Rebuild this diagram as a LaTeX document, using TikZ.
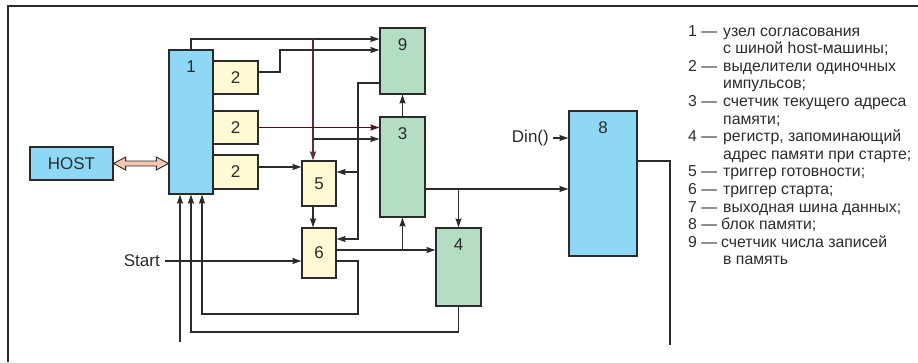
\documentclass[tikz,border=0pt]{standalone}
\usepackage{fontspec}
\setmainfont{Liberation Sans}
\usetikzlibrary{arrows.meta,calc}
\definecolor{lc}{HTML}{2B2B2B}
\definecolor{bblue}{HTML}{8ED8F6}
\definecolor{byel}{HTML}{FFFAD4}
\definecolor{bgrn}{HTML}{B4DEC3}
\definecolor{salm}{HTML}{F6C7B2}
\definecolor{dred}{HTML}{4E1018}
\definecolor{brn}{HTML}{5E2E38}
\begin{document}
\begin{tikzpicture}[x=1pt,y=-1pt,
  blk/.style={draw=lc, line width=1.2pt, inner sep=0pt, text=lc, font=\fontsize{17}{17}\selectfont},
  lab/.style={font=\fontsize{17}{17}\selectfont, text=lc},
  conn/.style={draw=lc, line width=1.1pt},
  arr/.style={conn, -{Stealth[length=9pt,width=6pt,inset=1pt]}},
  leg/.style={anchor=base west, inner sep=0pt, font=\fontsize{15.8}{15.8}\selectfont, text=lc},
  tall/.style={label={[lab,anchor=center,yshift=-17.5pt]north:#1}}]
\useasboundingbox (0,0) rectangle (918,362);
\draw[lc, line width=1.4pt] (8,362) -- (8,6) -- (918,6);

% blocks
\node[blk, fill=bblue, minimum width=83pt, minimum height=33pt] (host) at (71.5,163.5) {HOST};
\node[blk, fill=bblue, minimum width=44pt, minimum height=144pt, tall=1] (n1) at (191,122) {};
\node[blk, fill=byel, minimum width=45pt, minimum height=33pt] (n2a) at (235.5,77.5) {2};
\node[blk, fill=byel, minimum width=45pt, minimum height=33pt] (n2b) at (235.5,127.5) {2};
\node[blk, fill=byel, minimum width=45pt, minimum height=34pt] (n2c) at (235.5,172) {2};
\node[blk, fill=bgrn, minimum width=45pt, minimum height=66pt, tall=9] (n9) at (402.5,61) {};
\node[blk, fill=bgrn, minimum width=45pt, minimum height=100pt, tall=3] (n3) at (402.5,167) {};
\node[blk, fill=byel, minimum width=34pt, minimum height=45pt] (n5) at (319,183.5) {5};
\node[blk, fill=byel, minimum width=34pt, minimum height=50pt] (n6) at (319,253) {6};
\node[blk, fill=bgrn, minimum width=45pt, minimum height=78pt, tall=4] (n4) at (458.5,267) {};
\node[blk, fill=bblue, minimum width=68pt, minimum height=145pt, tall=8] (n8) at (603,183.5) {};

% text labels
\node[lab, anchor=east, inner xsep=5pt] (start) at (165,261) {Start};
\node[lab, anchor=east, inner xsep=4pt] (din) at (553,138) {Din()};

% junction coordinates
\coordinate (jA) at (191,39);
\coordinate (jB) at (313,39);
\coordinate (jC) at (313,139);
\coordinate (jD1) at (280,72);
\coordinate (jD2) at (280,50);
\coordinate (yF) at (0,167);
\coordinate (jG1) at (358,83);
\coordinate (jG2) at (358,172);
\coordinate (jG3) at (358,239);
\coordinate (jJ) at (402.5,250);
\coordinate (jK1) at (358,261);
\coordinate (jK2) at (358,314);
\coordinate (jK3) at (202,314);
\coordinate (jL) at (191,332);
\coordinate (fr) at (180,342);
\coordinate (jO) at (458.5,189);
\coordinate (jQ) at (670,161);
\coordinate (out) at (670,345);

% HOST <-> 1 double arrow
\coordinate (hA) at (host.east);
\coordinate (hB) at (n1.west |- host.east);
\draw[fill=salm, draw=lc, line width=0.9pt]
  (hA) -- ($(hA)+(12,-6.5)$) -- ($(hA)+(12,-2.5)$) -- ($(hB)+(-12,-2.5)$)
  -- ($(hB)+(-12,-6.5)$) -- (hB) -- ($(hB)+(-12,6.5)$) -- ($(hB)+(-12,2.5)$)
  -- ($(hA)+(12,2.5)$) -- ($(hA)+(12,6.5)$) -- cycle;

% connectors
\draw[arr] (n1.north) -- (jA) -- (jA -| n9.west);
\draw[arr, draw=brn] (jB) -- (jB |- n5.north);
\draw[arr] (jC) -- (jC -| n3.west);
\draw[arr] (jD1 -| n2a.east) -- (jD1) -- (jD2) -- (jD2 -| n9.west);
\draw[arr, draw=dred, line width=1.3pt] (n2b.east) -- (n2b.east -| n3.west);
\draw[arr] (yF -| n2c.east) -- (yF -| n5.west);
\draw[arr] (jG1 -| n9.west) -- (jG1) -- (jG3) -- (jG3 -| n6.east);
\draw[arr] (jG2) -- (jG2 -| n5.east);
\draw[arr] (n3.north) -- (n9.south);
\draw[arr] (n5.south -| jB) -- (n6.north -| jB);
\draw[arr] (jJ -| n6.east) -- (jJ -| n4.west);
\draw[arr] (jJ) -- (n3.south);
\draw[arr] (jK1 -| n6.east) -- (jK1) -- (jK2) -- (jK3) -- (jK3 |- n1.south);
\draw[arr] (n4.south) |- (jL) -- (n1.south);
\draw[arr] (fr) -- (fr |- n1.south);
\draw[arr] (start.east) -- (start.east -| n6.west);
\draw[arr] (din.east) -- (din.east -| n8.west);
\draw[arr] (n3.east |- jO) -- (jO -| n8.west);
\draw[arr] (jO) -- (n4.north);
\draw[conn] (n8.east |- jQ) -- (jQ) -- (out);

% legend
\node[leg] (ln1) at (688,36) {1 —};
\node[leg] (lt1) at (723,36) {узел согласования};
\node[leg] (lt1b) at (723,53.6) {с шиной host-машины;};
\node[leg] (ln2) at (688,71.2) {2 —};
\node[leg] (lt2) at (723,71.2) {выделители одиночных};
\node[leg] (lt2b) at (723,88.8) {импульсов;};
\node[leg] (ln3) at (688,106.4) {3 —};
\node[leg] (lt3) at (723,106.4) {счетчик текущего адреса};
\node[leg] (lt3b) at (723,124) {памяти;};
\node[leg] (ln4) at (688,141.6) {4 —};
\node[leg] (lt4) at (723,141.6) {регистр, запоминающий};
\node[leg] (lt4b) at (723,159.2) {адрес памяти при старте;};
\node[leg] (ln5) at (688,176.8) {5 —};
\node[leg] (lt5) at (723,176.8) {триггер готовности;};
\node[leg] (ln6) at (688,194.4) {6 —};
\node[leg] (lt6) at (723,194.4) {триггер старта;};
\node[leg] (ln7) at (688,212) {7 —};
\node[leg] (lt7) at (723,212) {выходная шина данных;};
\node[leg] (ln8) at (688,229.6) {8 —};
\node[leg] (lt8) at (721,229.6) {блок памяти;};
\node[leg] (ln9) at (688,247.2) {9 —};
\node[leg] (lt9) at (721,247.2) {счетчик числа записей};
\node[leg] (lt9b) at (723,264.8) {в память};
\end{tikzpicture}
\end{document}
